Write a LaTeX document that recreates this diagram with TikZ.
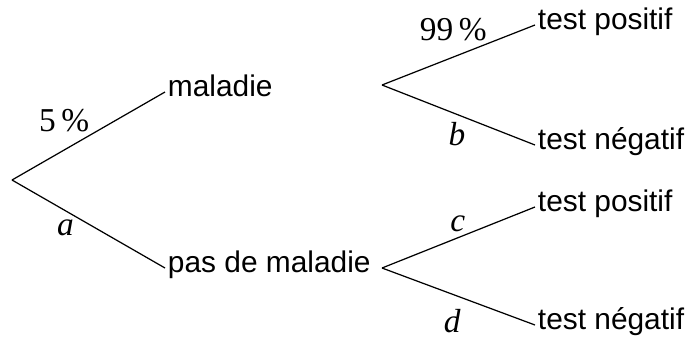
\documentclass[tikz,border=0pt]{standalone}
\usepackage{fontspec}
\setmainfont{Liberation Serif}
\setsansfont{Liberation Sans}
\usepackage{tikz}
\usetikzlibrary{positioning}

\begin{document}
\begin{tikzpicture}[
    x=0.02cm, y=-0.02cm,
    branch/.style={line width=0.7pt},
    outcome/.style={anchor=mid west, inner sep=1.5pt, font=\sffamily\fontsize{17}{20}\selectfont},
    prob/.style={inner sep=1pt, font=\fontsize{19}{21}\selectfont},
]
    \useasboundingbox (0,0) rectangle (687,343);

    % Level 0: root
    \coordinate (root) at (12,180);

    % Level 1: maladie / pas de maladie
    \node[outcome] (mal) at (165,92) {maladie};
    \node[outcome] (nomal) at (165,268) {pas de maladie};
    \draw[branch] (root) -- node[prob, pos=0.52, anchor=south east] {5\,\%} (mal.mid west);
    \draw[branch] (root) -- node[prob, pos=0.42, anchor=north east] {\textit{a}} (nomal.mid west);

    % Level 2: test after maladie
    \coordinate (b1) at (382,85);
    \node[outcome] (pos1) at (535,25) {test positif};
    \node[outcome] (neg1) at (535,145) {test négatif};
    \draw[branch] (b1) -- node[prob, pos=0.7, anchor=south east] {99\,\%} (pos1.mid west);
    \draw[branch] (b1) -- node[prob, pos=0.56, anchor=north east, yshift=-1pt] {\textit{b}} (neg1.mid west);

    % Level 2: test after pas de maladie
    \coordinate (b2) at (382,268);
    \node[outcome] (pos2) at (535,207) {test positif};
    \node[outcome] (neg2) at (535,325) {test négatif};
    \draw[branch] (b2) -- node[prob, pos=0.56, anchor=south east] {\textit{c}} (pos2.mid west);
    \draw[branch] (b2) -- node[prob, pos=0.53, anchor=north east, yshift=-5pt] {\textit{d}} (neg2.mid west);
\end{tikzpicture}
\end{document}
